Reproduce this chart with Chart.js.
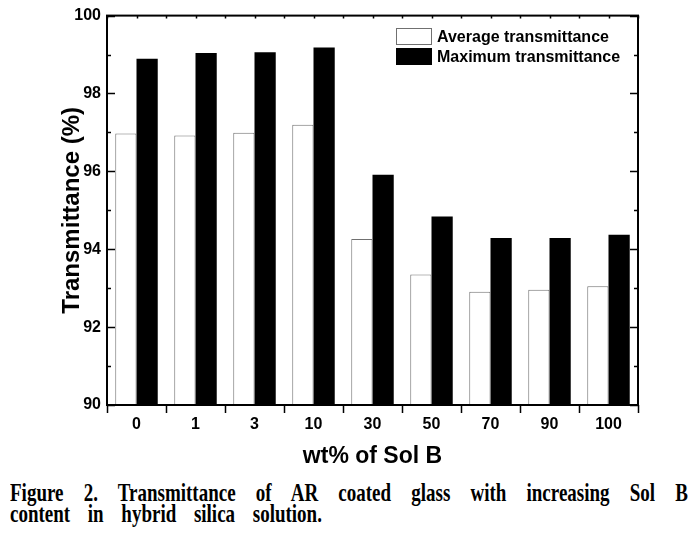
<!DOCTYPE html>
<html>
<head>
<meta charset="utf-8">
<script src="https://cdn.jsdelivr.net/npm/chart.js@4.4.0/dist/chart.umd.min.js"></script>
<style>
  html, body { margin: 0; padding: 0; background: #fff; }
  #wrap { position: relative; width: 696px; height: 542px; overflow: hidden; }
  #chart { position: absolute; left: 0; top: 0; }
  .cap {
    position: absolute; left: 10px; width: 892px;
    font-family: "Liberation Serif", "Times New Roman", serif;
    font-weight: bold; font-size: 25px; line-height: 28px; color: #000;
    white-space: nowrap;
    transform: scaleX(0.76); transform-origin: 0 0;
  }
  #cap1 { top: 479px; text-align: justify; text-align-last: justify; white-space: normal; }
  #cap2 { top: 500px; word-spacing: 17px; }
</style>
</head>
<body>
<div id="wrap">
  <canvas id="chart" width="696" height="474"></canvas>
  <div class="cap" id="cap1">Figure 2. Transmittance of AR coated glass with increasing Sol B</div>
  <div class="cap" id="cap2">content in hybrid silica solution.</div>
</div>
<script>
// data
const categories = ["0", "1", "3", "10", "30", "50", "70", "90", "100"];
const averageT = [96.97, 96.92, 96.99, 97.2, 94.26, 93.35, 92.91, 92.96, 93.05];
const maximumT = [98.89, 99.04, 99.06, 99.18, 95.91, 94.84, 94.29, 94.29, 94.37];
const yTicks = [90, 92, 94, 96, 98, 100];

const FONT = "'Liberation Sans', Arial, sans-serif";

// frame, inward ticks and the legend box
const framePlugin = {
  id: "frame",
  afterDraw(chart) {
    const ctx = chart.ctx;
    const a = chart.chartArea;
    const x = chart.scales.x;
    const y = chart.scales.y;
    ctx.save();
    ctx.strokeStyle = "#000";
    ctx.lineWidth = 2;
    ctx.strokeRect(a.left, a.top, a.right - a.left, a.bottom - a.top);

    ctx.lineWidth = 1.5;
    ctx.beginPath();
    // y ticks, left and right, major and minor
    for (let v = 90; v <= 100; v++) {
      const py = Math.round(y.getPixelForValue(v)) + 0.5;
      const len = v % 2 === 0 ? 8 : 4;
      ctx.moveTo(a.left, py); ctx.lineTo(a.left + len, py);
      ctx.moveTo(a.right, py); ctx.lineTo(a.right - len, py);
    }
    // bottom ticks between categories (outward), top ticks at half steps (inward)
    for (let i = 0; i <= categories.length; i++) {
      const px = Math.round(x.getPixelForValue(i - 0.5)) + 0.5;
      ctx.moveTo(px, a.bottom); ctx.lineTo(px, a.bottom + 8);
      ctx.moveTo(px, a.top); ctx.lineTo(px, a.top + 3);
      if (i < categories.length) {
        const pc = Math.round(x.getPixelForValue(i)) + 0.5;
        ctx.moveTo(pc, a.top); ctx.lineTo(pc, a.top + 3);
      }
    }
    ctx.stroke();

    // legend
    const lx = 396, ly = 28, bw = 36, bh = 17;
    ctx.font = "bold 16px " + FONT;
    ctx.textBaseline = "middle";
    chart.data.datasets.forEach((ds, i) => {
      const top = ly + i * 20;
      ctx.fillStyle = ds.backgroundColor;
      ctx.fillRect(lx, top, bw, bh);
      ctx.lineWidth = 1;
      ctx.strokeStyle = ds.borderColor;
      ctx.strokeRect(lx + 0.5, top + 0.5, bw - 1, bh - 1);
      ctx.fillStyle = "#000";
      ctx.fillText(ds.label, lx + bw + 5, top + bh / 2 + 1);
    });
    ctx.restore();
  }
};

new Chart(document.getElementById("chart"), {
  type: "bar",
  data: {
    labels: categories,
    datasets: [
      {
        label: "Average transmittance",
        data: averageT,
        backgroundColor: "#ffffff",
        borderColor: "#707070",
        borderWidth: 1,
        borderSkipped: "bottom",
        categoryPercentage: 0.72,
        barPercentage: 1.0
      },
      {
        label: "Maximum transmittance",
        data: maximumT,
        backgroundColor: "#000000",
        borderColor: "#000000",
        borderWidth: 0,
        categoryPercentage: 0.72,
        barPercentage: 1.0
      }
    ]
  },
  options: {
    responsive: false,
    animation: false,
    layout: { padding: { top: 15, right: 58, left: 54, bottom: 0 } },
    plugins: {
      legend: { display: false },
      tooltip: { enabled: false }
    },
    scales: {
      x: {
        grid: { display: false, drawTicks: false },
        border: { display: false },
        ticks: {
          color: "#000",
          padding: 10,
          font: { family: FONT, weight: "bold", size: 16 }
        },
        title: {
          display: true,
          text: "wt% of Sol B",
          color: "#000",
          font: { family: FONT, weight: "bold", size: 23 }
        },
        afterFit(scale) { scale.height = 69; }
      },
      y: {
        min: 90,
        max: 100,
        grid: { display: false, drawTicks: false },
        border: { display: false },
        afterBuildTicks(scale) { scale.ticks = yTicks.map(v => ({ value: v })); },
        ticks: {
          color: "#000",
          padding: 6,
          font: { family: FONT, weight: "bold", size: 16 }
        },
        title: {
          display: true,
          text: "Transmittance (%)",
          color: "#000",
          font: { family: FONT, weight: "bold", size: 24 }
        },
        afterFit(scale) { scale.width = 53; }
      }
    }
  },
  plugins: [framePlugin]
});
</script>
</body>
</html>
